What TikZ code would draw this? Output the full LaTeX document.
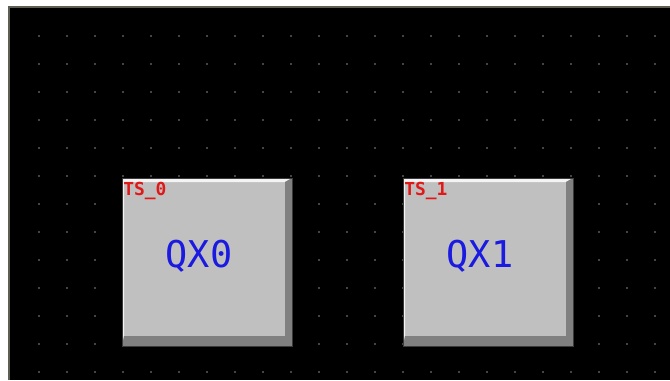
\documentclass[tikz,border=0pt]{standalone}
\usepackage{fontspec}
\newfontfamily\panelfont{DejaVu Sans Mono}
\definecolor{btnface}{HTML}{C0C0C0}
\definecolor{btnlight}{HTML}{F4F4F4}
\definecolor{btnshade}{HTML}{808080}
\definecolor{btnedge}{HTML}{3A3A3A}
\definecolor{dotgrey}{HTML}{8A8A8A}
\definecolor{framegrey}{HTML}{5E5E52}
\definecolor{qxblue}{HTML}{1A1AE0}
\definecolor{tsred}{HTML}{E01818}
\newcommand{\tsbutton}[4]{%
 \begin{scope}[shift={(#2,178)}]%
  \fill[btnface] (0,0) rectangle (170,168);%
  \fill[btnlight] (0,0) -- (170,0) -- (163,4) -- (2,4) -- (2,158) -- (0,168) -- cycle;%
  \fill[btnshade] (170,0) -- (170,168) -- (0,168) -- (2,158) -- (163,158) -- (163,4) -- cycle;%
  \draw[btnedge,line width=0.4pt] (0,0) rectangle (170,168);%
  \node[tstext] ({#1tag}) at (1,17) {#3};%
  \node[qxtext] ({#1}) at (77,89) {#4};%
 \end{scope}%
}
\begin{document}
\begin{tikzpicture}[x=0.02cm,y=-0.02cm,
  tstext/.style={anchor=base west,inner sep=0pt,text=tsred,font=\panelfont\bfseries\fontsize{10.2}{11}\selectfont},
  qxtext/.style={anchor=base,inner sep=0pt,text=qxblue,font=\panelfont\fontsize{21}{24}\selectfont}]
  \useasboundingbox (0,0) rectangle (670,380);
  \fill[white] (0,0) rectangle (670,380);
  \fill[black] (9,7) rectangle (670,380);
  \draw[framegrey,line width=1pt] (9,380) -- (9,7) -- (670,7);
  \foreach \gx in {0,...,22}
   \foreach \gy in {0,...,12}
    \fill[dotgrey] ({39+28*\gx},{36+28*\gy}) circle (0.5pt);
  \tsbutton{qx0}{122}{TS\_0}{QX0}
  \tsbutton{qx1}{403}{TS\_1}{QX1}
\end{tikzpicture}
\end{document}
